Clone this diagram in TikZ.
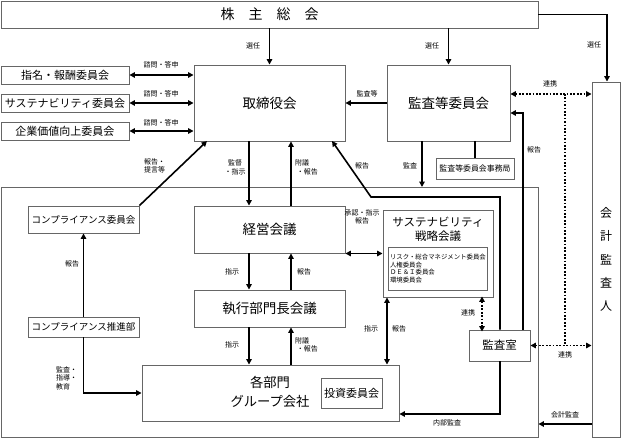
\documentclass[tikz,border=0pt]{standalone}
\usepackage{fontspec}
\setmainfont{Noto Sans CJK JP}
\usetikzlibrary{arrows.meta,calc}
\tikzset{
  boxn/.style={draw=black!60, line width=0.9pt, fill=white, inner sep=0pt, align=center},
  arr/.style={line width=1.6pt, -{Triangle[length=5.5pt,width=5.5pt]}},
  darr/.style={line width=1.6pt, {Triangle[length=5.5pt,width=5.5pt]}-{Triangle[length=5.5pt,width=5.5pt]}},
  plainln/.style={line width=1.6pt},
  dotln/.style={line width=1.7pt, dash pattern=on 1.7pt off 1.7pt},
  lbl/.style={font=\fontsize{7}{8.5}\selectfont, inner sep=0pt, align=center},
  fbig/.style={font=\fontsize{13.5}{16}\selectfont},
  fmid/.style={font=\fontsize{11}{13}\selectfont},
  fsmall/.style={font=\fontsize{9.5}{11}\selectfont},
}
\begin{document}
\begin{tikzpicture}[x=1pt,y=-1pt]
\useasboundingbox (0,0) rectangle (621,441);
% frame
\node[boxn, minimum width=537pt, minimum height=250pt] (outer) at (269.5,312) {};
% boxes
\node[boxn, minimum width=537pt, minimum height=27pt, font=\fontsize{14}{16}\selectfont] (kabu) at (269.5,14.5) {株　主　総　会};
\node[boxn, fbig, minimum width=151pt, minimum height=76pt] (tori) at (269.5,103) {取締役会};
\node[boxn, fbig, minimum width=123pt, minimum height=76pt] (kansa) at (448.5,103) {監査等委員会};
\node[boxn, minimum width=28pt, minimum height=355pt, font=\fontsize{12}{23.3}\selectfont] (kaikei) at (606,259.5) {会\\計\\監\\査\\人};
\node[boxn, fmid, minimum width=128pt, minimum height=18pt] (shimei) at (65,75) {指名・報酬委員会};
\node[boxn, fmid, minimum width=128pt, minimum height=18pt] (susc) at (65,103) {サステナビリティ委員会};
\node[boxn, fmid, minimum width=128pt, minimum height=18pt] (kigyo) at (65,131) {企業価値向上委員会};
\node[boxn, minimum width=78pt, minimum height=21pt, font=\fontsize{7.9}{9}\selectfont] (jimu) at (475,168.5) {監査等委員会事務局};
\node[boxn, fbig, minimum width=151pt, minimum height=47pt] (keiei) at (269.5,229.5) {経営会議};
\node[boxn, minimum width=110pt, minimum height=87pt] (suss) at (438,253.5) {};
\node[inner sep=0pt, align=center, font=\fontsize{11.5}{14}\selectfont] (sustitle) at (438,229.5) {サステナビリティ\\戦略会議};
\node[boxn, minimum width=99pt, minimum height=43pt, text width=95pt, align=left, font=\fontsize{6.4}{7.6}\selectfont] (susin) at (437.5,268.5) {リスク・総合マネジメント委員会\\人権委員会\\ＤＥ＆Ｉ委員会\\環境委員会};
\node[boxn, fbig, minimum width=151pt, minimum height=37pt] (shikko) at (269.5,308.5) {執行部門長会議};
\node[boxn, minimum width=257pt, minimum height=56pt] (kakubu) at (270.5,393) {};
\node[inner sep=0pt, align=center, font=\fontsize{13.3}{19}\selectfont] (kakutext) at (270,391.5) {各部門\\グループ会社};
\node[boxn, fmid, minimum width=61pt, minimum height=30pt] (toshi) at (351.5,393) {投資委員会};
\node[boxn, font=\fontsize{11.5}{13}\selectfont, minimum width=61pt, minimum height=31pt] (kshitsu) at (499.5,345.5) {監査室};
\node[boxn, fsmall, minimum width=111pt, minimum height=27pt] (compc) at (83.5,219.5) {コンプライアンス委員会};
\node[boxn, fsmall, minimum width=111pt, minimum height=20pt] (compp) at (83.5,327) {コンプライアンス推進部};
% coordinates
\coordinate (cx1) at (249,0);
\coordinate (cx2) at (291,0);
\coordinate (cx3) at (387,0);
\coordinate (cx4) at (482,0);
\coordinate (k1) at (422,187);
\coordinate (k2) at (475,0);
\coordinate (r1) at (500,197);
\coordinate (r2) at (371,197);
\coordinate (r3) at (332,141);
\coordinate (r4) at (523,113);
\coordinate (r5) at (500,414);
\coordinate (r6) at (0,424);
\coordinate (r7) at (607,14.5);
\coordinate (r8) at (207,141);
\coordinate (d1) at (565,94);
% top arrows
\draw[arr] (tori.north |- kabu.south) -- (tori.north);
\node[lbl] (l1) at (253,46) {選任};
\draw[arr] (kansa.north |- kabu.south) -- (kansa.north);
\node[lbl] (l2) at (432,46) {選任};
\draw[arr] (kabu.east) -- (r7) -- (r7 |- kaikei.north);
\node[lbl] (l3) at (594,45) {選任};
% left committees
\draw[darr] (shimei.east) -- (shimei.east -| tori.west);
\draw[darr] (susc.east) -- (susc.east -| tori.west);
\draw[darr] (kigyo.east) -- (kigyo.east -| tori.west);
\node[lbl] (l4) at (161,65) {諮問・答申};
\node[lbl] (l5) at (161,94) {諮問・答申};
\node[lbl] (l6) at (161,123) {諮問・答申};
% kansa to tori
\draw[arr] (kansa.west) -- (tori.east);
\node[lbl] (l7) at (367,94) {監査等};
% dotted renkei
\draw[dotln, {Triangle[length=5.5pt,width=5.5pt]}-{Triangle[length=5.5pt,width=5.5pt]}] (kansa.east |- d1) -- (kaikei.west |- d1);
\node[lbl] (l8) at (550,84) {連携};
\draw[dotln] (d1) -- (d1 |- kshitsu.east);
\draw[dotln, {Triangle[length=5.5pt,width=5.5pt]}-{Triangle[length=5.5pt,width=5.5pt]}] (kshitsu.east) -- (kaikei.west |- kshitsu.east);
\node[lbl] (l9) at (565,355) {連携};
\draw[dotln, {Triangle[length=5.5pt,width=5.5pt]}-{Triangle[length=5.5pt,width=5.5pt]}] ([yshift=1pt]suss.south -| cx4) -- ([yshift=-2pt]kshitsu.north -| cx4);
\node[lbl] (l10) at (468,313) {連携};
% kansashitsu report lines
\draw[arr] (kshitsu.north -| r4) -- (r4) -- (kansa.east |- r4);
\node[lbl] (l11) at (534,150) {報告};
\draw[arr] (kshitsu.north -| r1) -- (r1) -- (r2) -- (r3);
\node[lbl] (l12) at (362,166) {報告};
\draw[arr] (kshitsu.south -| r5) -- (r5) -- (kakubu.east |- r5);
\node[lbl] (l13) at (447,423) {内部監査};
\draw[arr] (kaikei.west |- r6) -- (outer.east |- r6);
\node[lbl] (l14) at (565,415) {会計監査};
% kansa bottom
\draw[arr] (kansa.south -| k1) -- (k1);
\node[lbl] (l15) at (410,166) {監査};
\draw[plainln] (kansa.south -| k2) -- (jimu.north);
% central column
\draw[arr] (tori.south -| cx1) -- (keiei.north -| cx1);
\draw[arr] (keiei.north -| cx2) -- (tori.south -| cx2);
\node[lbl] (l16) at (235,167.5) {監督\\・指示};
\node[lbl, align=left, anchor=west] (l17) at (295,167.5) {附議\\\ ・報告};
\draw[arr] (keiei.south -| cx1) -- (shikko.north -| cx1);
\draw[arr] (shikko.north -| cx2) -- (keiei.south -| cx2);
\node[lbl] (l18) at (232,272) {指示};
\node[lbl] (l19) at (304,272) {報告};
\draw[arr] (shikko.south -| cx1) -- (kakubu.north -| cx1);
\draw[arr] (kakubu.north -| cx2) -- (shikko.south -| cx2);
\node[lbl] (l20) at (232,345) {指示};
\node[lbl, align=left, anchor=west] (l21) at (295,345) {附議\\\ ・報告};
% sustainability links
\draw[darr] (keiei.east |- suss.west) -- (suss.west);
\node[lbl] (l22) at (362,217) {承認・指示\\報告};
\draw[darr] (suss.south -| cx3) -- (kakubu.north -| cx3);
\node[lbl] (l23) at (371,329) {指示};
\node[lbl] (l24) at (399,329) {報告};
% compliance
\draw[arr] (compc.north east) -- (r8);
\node[lbl, align=left, anchor=west] (l25) at (144,166) {報告・\\提言等};
\draw[arr] (compp.north) -- (compc.south);
\node[lbl] (l26) at (72,264) {報告};
\draw[arr] (compp.south) -- (compp.south |- kakubu.west) -- (kakubu.west);
\node[lbl, align=left, anchor=west] (l27) at (56,378) {監査・\\指導・\\教育};
\end{tikzpicture}
\end{document}
